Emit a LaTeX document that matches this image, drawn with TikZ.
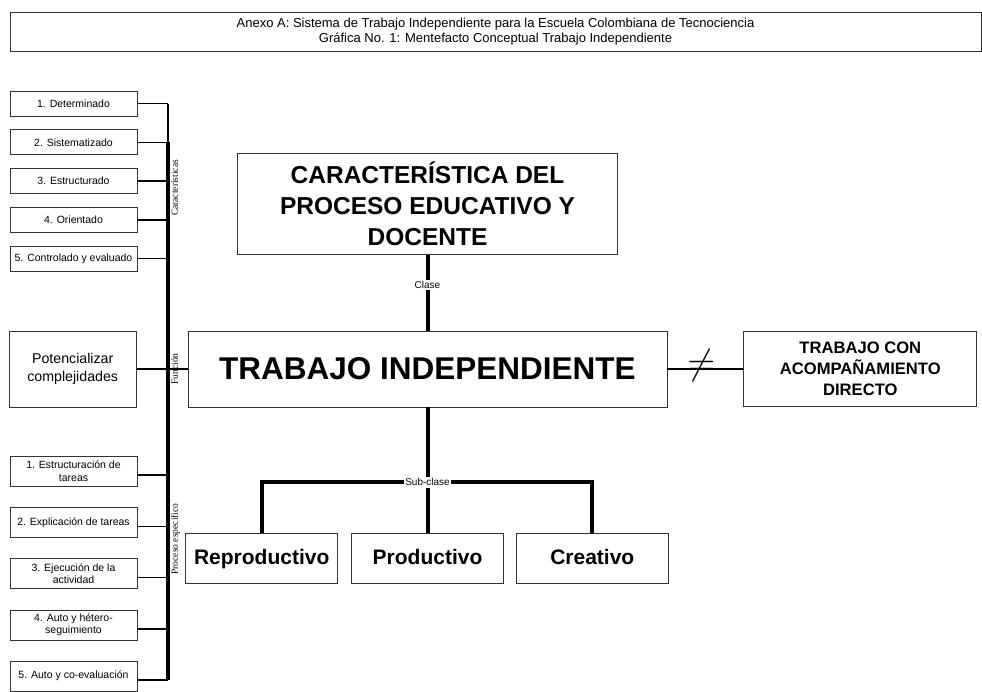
\documentclass[tikz,border=0pt]{standalone}
\usepackage{fontspec}
\setmainfont{Liberation Sans}
\newfontfamily\serifa{Liberation Serif}
\usepackage{graphicx}
\usetikzlibrary{positioning}

\begin{document}
\begin{tikzpicture}[x=1pt,y=-1pt,align=center,node distance=13pt,
caja/.style={draw=black!80,line width=0.8pt,minimum width=127pt,minimum height=25pt,inner sep=1pt,font=\fontsize{10.5}{12.5}\selectfont},
cajaP/.style={caja,minimum height=30pt},
marco/.style={draw=black!80,line width=0.8pt,inner sep=1pt},
grande/.style={marco,font=\bfseries\fontsize{21}{25}\selectfont,minimum width=152pt,minimum height=50pt,text height=15pt,text depth=4.5pt},
rotulo/.style={font=\serifa\fontsize{9.5}{10}\selectfont,rotate=90,anchor=north,inner sep=1pt},
etiqueta/.style={fill=white,font=\fontsize{10}{11}\selectfont,inner sep=1.5pt},
linea/.style={line width=1.5pt},
barra/.style={line width=3.3pt},
grueso/.style={line width=4pt}
]
\useasboundingbox (0,0) rectangle (982,691);
%--
\node[marco,minimum width=971pt,minimum height=39pt,inner sep=0pt,font=\fontsize{13}{15}\selectfont](titulo) at (495.5,31.5){Anexo A: Sistema de Trabajo Independiente para la Escuela Colombiana de Tecnociencia\\Gráfica No. 1: Mentefacto Conceptual Trabajo Independiente};
%--
\node[marco,minimum width=479pt,minimum height=76pt,font=\bfseries\fontsize{31.5}{36}\selectfont](trabajo) at (427.5,369){TRABAJO INDEPENDIENTE};
\node[marco,minimum width=380pt,minimum height=101pt,font=\bfseries\fontsize{24.5}{31}\selectfont,above=76pt of trabajo](carac){CARACTERÍSTICA DEL\\PROCESO EDUCATIVO Y\\DOCENTE};
\draw[grueso] (carac) -- (trabajo) node[etiqueta,pos=0.4](clase){Clase};
%--
\node[marco,minimum width=233pt,minimum height=75pt,font=\bfseries\fontsize{16.6}{21}\selectfont,right=76pt of trabajo](acomp){TRABAJO CON\\ACOMPAÑAMIENTO\\DIRECTO};
\draw[linea] (trabajo) -- (acomp) node[midway,xshift=-4pt,yshift=4pt,inner sep=0pt](neq){\scalebox{3.6}{$\neq$}};
%--
\node[grande,below=126pt of trabajo](produ){Productivo};
\node[grande,left=13pt of produ](repro){Reproductivo};
\node[grande,right=12pt of produ](creat){Creativo};
\coordinate[below=75pt of trabajo](sub);
\draw[grueso] (trabajo) -- (produ);
\draw[grueso] (repro.north) |- (sub) -| (creat.north);
\node[etiqueta](subclase) at (sub){Sub-clase};
%--
\coordinate (eje) at (168,0);
\node[caja](c1) at (73.5,103.5){1. Determinado};
\node[caja,below=of c1](c2){2. Sistematizado};
\node[caja,below=of c2](c3){3. Estructurado};
\node[caja,below=of c3](c4){4. Orientado};
\node[caja,below=of c4](c5){5. Controlado y evaluado};
\foreach \i in {1,...,5} \draw[linea] (c\i) -- (c\i -| eje);
%--
\node[caja,minimum height=76pt,font=\fontsize{14.2}{18}\selectfont,left=51pt of trabajo](pot){Potencializar\\complejidades};
\draw[linea] (pot) -- (trabajo);
%--
\node[cajaP](p1) at (73.5,471){1. Estructuración de\\tareas};
\node[cajaP,below=20.5pt of p1](p2){2. Explicación de tareas};
\node[cajaP,below=20.5pt of p2](p3){3. Ejecución de la\\actividad};
\node[cajaP,below=20.5pt of p3](p4){4. Auto y hétero-\\seguimiento};
\node[cajaP,below=20.5pt of p4](p5){5. Auto y co-evaluación};
\foreach \i in {1,...,5} \draw[linea] ([yshift=-4pt]p\i.east) -- ([yshift=-4pt]p\i.east -| eje);
%--
\draw[linea] (c1 -| eje) -- (c2 -| eje);
\draw[barra] (c2 -| eje) -- ([yshift=-4pt]p5.east -| eje);
\node[rotulo](lcar) at (170,188){Características};
\node[rotulo](lfun) at (170,369){Función};
\node[rotulo](lpro) at (170,539){Proceso específico};
\end{tikzpicture}
\end{document}
